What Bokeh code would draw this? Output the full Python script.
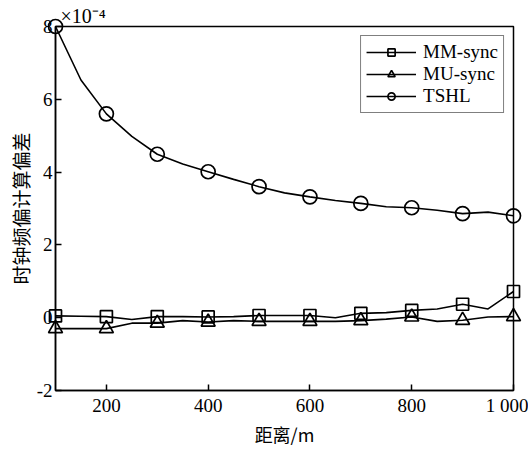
from bokeh.plotting import figure
from bokeh.models import Range1d, FixedTicker, Legend, LegendItem
from bokeh.embed import file_html
from bokeh.resources import INLINE

x = [100, 150, 200, 250, 300, 350, 400, 450, 500, 550, 600, 650, 700, 750, 800, 850, 900, 950, 1000]
mm_sync = [0.05, 0.04, 0.03, -0.05, 0.03, 0.03, 0.02, 0.03, 0.06, 0.06, 0.06, 0.0, 0.12, 0.14, 0.2, 0.24, 0.37, 0.24, 0.72]
mu_sync = [-0.3, -0.3, -0.3, -0.15, -0.15, -0.08, -0.12, -0.08, -0.1, -0.1, -0.1, -0.1, -0.08, -0.04, 0.02, -0.1, -0.07, 0.02, 0.03]
tshl = [8.0, 6.53, 5.6, 4.98, 4.49, 4.22, 4.01, 3.8, 3.6, 3.43, 3.32, 3.22, 3.14, 3.05, 3.02, 2.95, 2.86, 2.9, 2.8]
mark_x = x[::2]
x_ticks = [200, 400, 600, 800, 1000]
y_ticks = [-2, 0, 2, 4, 6, 8]
scale_text = "×10⁻⁴"

SERIF = "Liberation Serif"
CJK = "Noto Sans CJK SC"

p = figure(width=528, height=449, output_backend="svg", toolbar_location=None,
           x_range=Range1d(100, 1000), y_range=Range1d(-2, 8),
           min_border_left=55, min_border_right=15, min_border_top=26, min_border_bottom=48)
p.grid.visible = False
p.background_fill_color = "white"
p.border_fill_color = "white"
p.outline_line_color = "black"
p.outline_line_width = 1.5

p.title.text = scale_text
p.title.text_font = SERIF
p.title.text_font_size = "20px"
p.title.text_font_style = "normal"
p.title.text_color = "black"
p.title.offset = 5
p.title.standoff = 0

for ax in (p.xaxis[0], p.yaxis[0]):
    ax.axis_line_width = 1.5
    ax.axis_line_color = "black"
    ax.major_tick_in = 6
    ax.major_tick_out = 0
    ax.minor_tick_line_color = None
    ax.major_tick_line_width = 1.5
    ax.major_tick_line_color = "black"
    ax.major_label_text_font = SERIF
    ax.major_label_text_font_size = "19px"
    ax.major_label_text_color = "black"
    ax.axis_label_text_font_style = "normal"
    ax.axis_label_text_color = "black"

p.xaxis.ticker = FixedTicker(ticks=x_ticks)
p.xaxis.major_label_overrides = {1000: "1 000"}
p.yaxis.ticker = FixedTicker(ticks=y_ticks)
p.yaxis.major_label_overrides = {-2: "-2"}
p.xaxis.axis_label = "距离/m"
p.xaxis.axis_label_text_font = CJK
p.xaxis.axis_label_text_font_size = "18px"
p.xaxis.axis_label_standoff = 2
p.yaxis.axis_label = "时钟频偏计算偏差"
p.yaxis.axis_label_text_font = CJK
p.yaxis.axis_label_text_font_size = "19px"
p.yaxis.axis_label_standoff = 0
p.xaxis.major_label_standoff = 4
p.yaxis.major_label_standoff = 3

lw = 1.6
r1 = p.line(x, mm_sync, line_color="black", line_width=lw)
m1 = p.scatter(mark_x, mm_sync[::2], marker="square", size=12, fill_color="white",
               fill_alpha=0, line_color="black", line_width=1.7, level="overlay")
r2 = p.line(x, mu_sync, line_color="black", line_width=lw)
m2 = p.scatter(mark_x, mu_sync[::2], marker="triangle", size=14, fill_color="white",
               fill_alpha=0, line_color="black", line_width=1.7, level="overlay")
r3 = p.line(x, tshl, line_color="black", line_width=lw)
m3 = p.scatter(mark_x, tshl[::2], marker="circle", size=14, fill_color="white",
               fill_alpha=0, line_color="black", line_width=1.7, level="overlay")

legend = Legend(items=[
    LegendItem(label="MM-sync", renderers=[r1, m1]),
    LegendItem(label="MU-sync", renderers=[r2, m2]),
    LegendItem(label="TSHL", renderers=[r3, m3]),
], location="top_right")
legend.label_text_font = SERIF
legend.label_text_font_size = "19px"
legend.label_text_color = "black"
legend.border_line_color = "black"
legend.border_line_width = 1.5
legend.margin = 9
legend.padding = 5
legend.spacing = 0
legend.glyph_width = 50
legend.label_height = 18
legend.glyph_height = 18
legend.label_standoff = 7
legend.background_fill_alpha = 1
p.add_layout(legend)

open("out.html", "w").write(file_html(p, INLINE))
